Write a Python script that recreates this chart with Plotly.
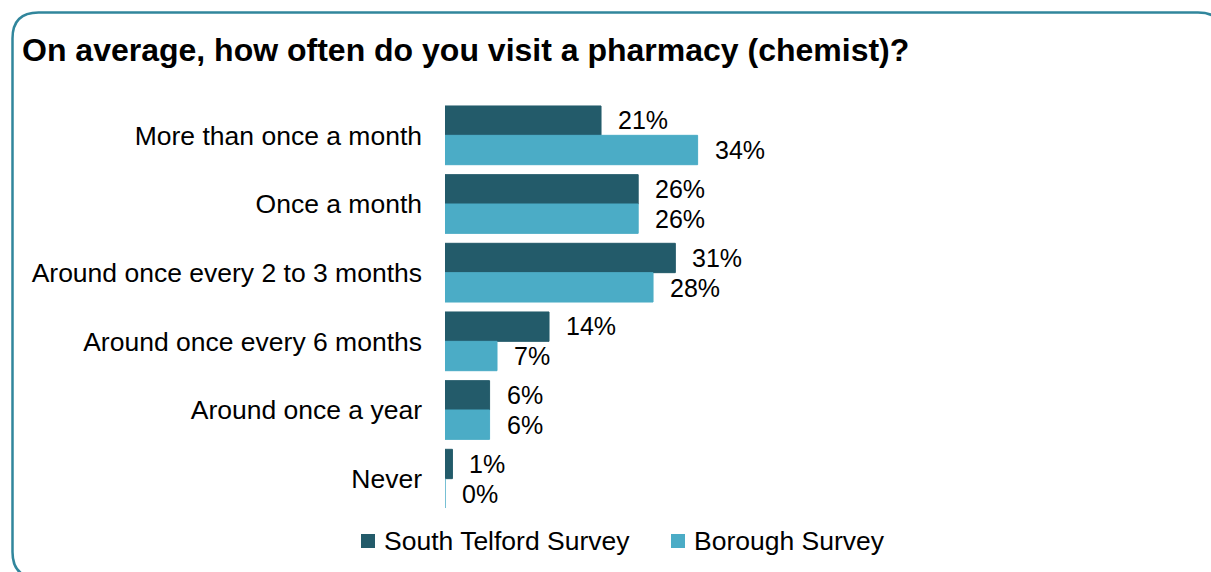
import plotly.graph_objects as go

# Survey responses: frequency of pharmacy visits
categories = [
    "More than once a month",
    "Once a month",
    "Around once every 2 to 3 months",
    "Around once every 6 months",
    "Around once a year",
    "Never",
]
south_telford = [21, 26, 31, 14, 6, 1]
borough = [34, 26, 28, 7, 6, 0]
series_names = ["South Telford Survey", "Borough Survey"]

W, H = 1211, 572
FONT = "Liberation Sans, Arial, sans-serif"
DARK = "#235B6A"
LIGHT = "#4BACC6"
FRAME = "#31869C"
colors = [DARK, LIGHT]

# plot area in pixels
L, R = 445, 1188
T, B = 101, 513


def px(x):
    return (x - L) / (R - L)


def py(y):
    return (B - y) / (B - T)


fig = go.Figure()
for name, vals, col in zip(series_names, [south_telford, borough], colors):
    fig.add_trace(go.Bar(
        y=categories, x=vals, name=name, orientation="h",
        marker=dict(color=col, line=dict(color=col, width=1)),
        hoverinfo="skip", showlegend=False,
    ))

# value labels to the right of each bar
for vals, shift in [(south_telford, 15), (borough, -15)]:
    for cat, v in zip(categories, vals):
        fig.add_annotation(
            x=v, y=cat, text=f"{v}%", showarrow=False,
            xanchor="left", yanchor="middle", xshift=15, yshift=shift,
            font=dict(family=FONT, size=25, color="#000000"),
        )

# legend row: small square swatch followed by the series name
legend_y = 541
legend_items = [(361, 382), (671, 692)]
for (sq_x, tx_x), name, col in zip(legend_items, series_names, colors):
    fig.add_shape(type="rect", xref="paper", yref="paper",
                  x0=px(sq_x), x1=px(sq_x + 14),
                  y0=py(legend_y + 7), y1=py(legend_y - 7),
                  fillcolor=col, line=dict(width=0))
    fig.add_annotation(
        x=px(tx_x), y=py(legend_y), xref="paper", yref="paper",
        text=name, showarrow=False, xanchor="left", yanchor="middle",
        font=dict(family=FONT, size=26.5, color="#000000"),
    )

# rounded frame around the chart
x0, y0, x1, y1, r = 12.5, 12.5, 1224, 578, 26
path = (
    f"M {px(x0)},{py(y0 + r)} "
    f"Q {px(x0)},{py(y0)} {px(x0 + r)},{py(y0)} "
    f"L {px(x1 - r)},{py(y0)} "
    f"Q {px(x1)},{py(y0)} {px(x1)},{py(y0 + r)} "
    f"L {px(x1)},{py(y1 - r)} "
    f"Q {px(x1)},{py(y1)} {px(x1 - r)},{py(y1)} "
    f"L {px(x0 + r)},{py(y1)} "
    f"Q {px(x0)},{py(y1)} {px(x0)},{py(y1 - r)} Z"
)
fig.add_shape(type="path", path=path, xref="paper", yref="paper",
              line=dict(color=FRAME, width=2.5), layer="above")

fig.update_layout(
    width=W, height=H,
    margin=dict(l=L, r=W - R, t=T, b=H - B),
    paper_bgcolor="white", plot_bgcolor="white",
    barmode="group", bargap=0.145, bargroupgap=0,
    font=dict(family=FONT, size=26, color="#000000"),
    title=dict(
        text="<b>On average, how often do you visit a pharmacy (chemist)?</b>",
        x=22 / W, xref="container", xanchor="left",
        y=1 - 50 / H, yref="container", yanchor="middle",
        font=dict(family=FONT, size=32, color="#000000"),
    ),
    xaxis=dict(range=[0, 100], visible=False, fixedrange=True),
    yaxis=dict(
        autorange="reversed", showgrid=False, zeroline=False, showline=False,
        ticks="", ticklabelstandoff=22,
        tickfont=dict(family=FONT, size=26.5, color="#000000"),
    ),
    showlegend=False,
)

fig.write_html("out.html")
